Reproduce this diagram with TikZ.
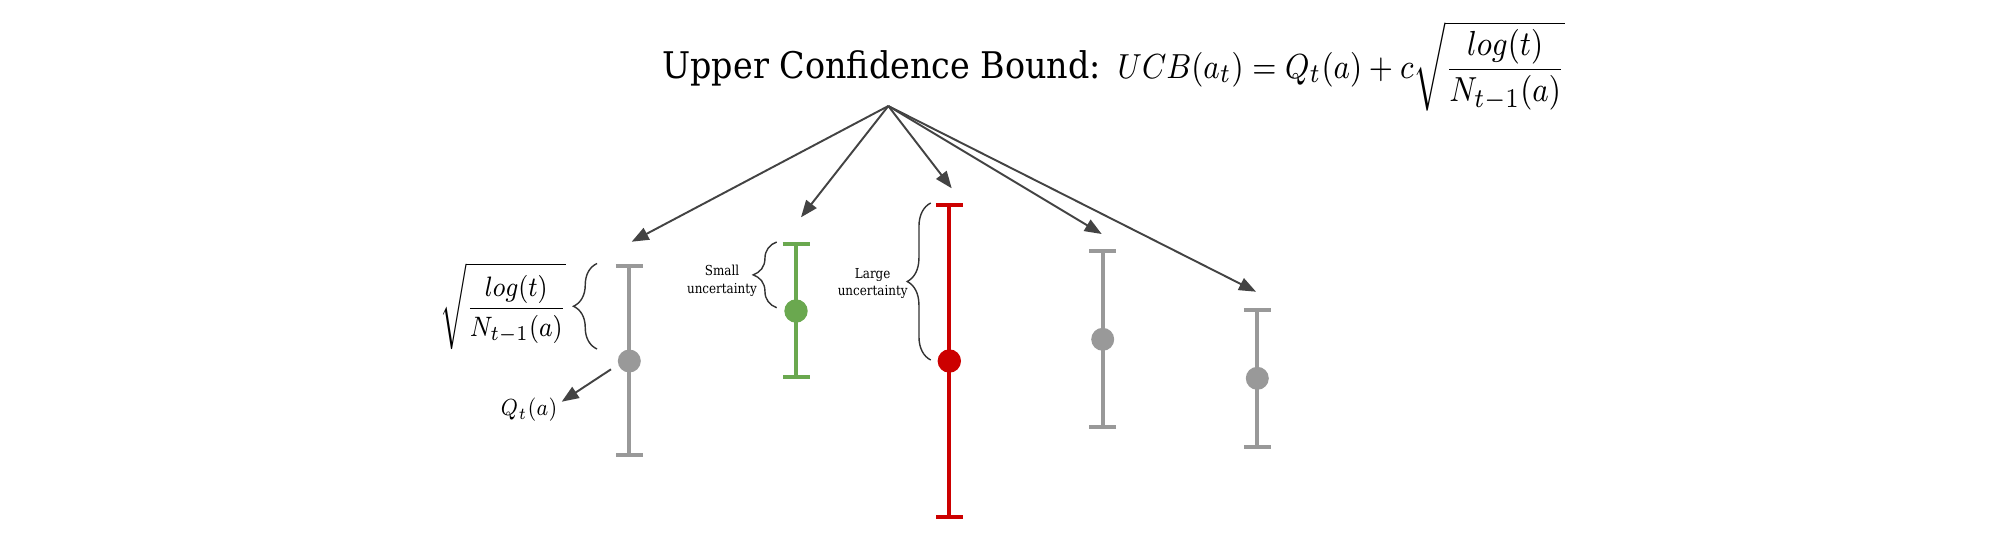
\documentclass[tikz,border=0pt]{standalone}
\usepackage{amsmath, amssymb}
\usepackage{graphicx}
\usepackage[no-math]{fontspec}
\newfontfamily\lblfont{DejaVu Serif}
\usepackage{tikz}
\usetikzlibrary{calc, arrows.meta, decorations.pathreplacing, positioning}
\definecolor{barGray}{HTML}{999999}
\definecolor{barGreen}{HTML}{6AA84F}
\definecolor{barRed}{HTML}{CC0000}
\definecolor{arrowGray}{HTML}{434343}
\definecolor{braceGray}{HTML}{333333}

\begin{document}
\begin{tikzpicture}[
    bar/.style={draw=#1, line width=1.1pt, {Bar[width=0.27cm]}-{Bar[width=0.27cm]}},
    arr/.style={draw=arrowGray, line width=0.55pt, -{Triangle[length=0.17cm, width=0.13cm]}},
    ubrace/.style={draw=braceGray, line width=0.4pt, decorate, decoration={brace, amplitude=0.235cm}},
    note/.style={font=\lblfont\fontsize{3.4}{4.3}\selectfont, inner sep=0pt}
  ]
                \useasboundingbox (0,0) rectangle (20,-5.45);
                \node[anchor=base west, inner sep=0pt, font=\fontsize{9.5}{11}\selectfont] (title) at (6.617,-0.783)
                    {\scalebox{1}[1.1]{\lblfont Upper Confidence Bound:}\hspace{0.5em}\scalebox{0.955}[1.1]{$\displaystyle UCB(a_t) = Q_t(a) + c\sqrt{\frac{log(t)}{N_{t-1}(a)}}$}};
                \coordinate (apex) at (8.883,-1.06);
                \coordinate (top1) at (6.293,-2.643); \coordinate (mid1) at (6.293,-3.61); \coordinate (bot1) at (6.293,-4.57);
                \coordinate (top2) at (7.96,-2.423);  \coordinate (mid2) at (7.96,-3.11);  \coordinate (bot2) at (7.96,-3.787);
                \coordinate (top3) at (9.493,-2.027); \coordinate (mid3) at (9.493,-3.61); \coordinate (bot3) at (9.493,-5.193);
                \coordinate (top4) at (11.027,-2.493); \coordinate (mid4) at (11.027,-3.393); \coordinate (bot4) at (11.027,-4.29);
                \coordinate (top5) at (12.573,-3.077); \coordinate (mid5) at (12.573,-3.783); \coordinate (bot5) at (12.573,-4.49);
                \draw[bar=barGray] (top1) -- (bot1);
                \fill[barGray] (mid1) circle (0.115);
                \draw[bar=barGreen] (top2) -- (bot2);
                \fill[barGreen] (mid2) circle (0.117);
                \draw[bar=barRed] (top3) -- (bot3);
                \fill[barRed] (mid3) circle (0.117);
                \draw[bar=barGray] (top4) -- (bot4);
                \fill[barGray] (mid4) circle (0.115);
                \draw[bar=barGray] (top5) -- (bot5);
                \fill[barGray] (mid5) circle (0.115);
                \coordinate (aim1) at (6.317,-2.417);
                \coordinate (aim2) at (8.01,-2.173);
                \coordinate (aim3) at (9.517,-1.883);
                \coordinate (aim4) at (11.017,-2.34);
                \coordinate (aim5) at (12.56,-2.917);
                \draw[arr] (apex) -- (aim1);
                \draw[arr] (apex) -- (aim2);
                \draw[arr] (apex) -- (aim3);
                \draw[arr] (apex) -- (aim4);
                \draw[arr] (apex) -- (aim5);
                \draw[ubrace] (5.97,-3.49) -- (5.97,-2.635);
                \draw[ubrace] (7.767,-3.077) -- (7.767,-2.42);
                \draw[ubrace] (9.307,-3.60) -- (9.307,-2.03);
                \node[font=\fontsize{8.1}{10}\selectfont] (sqrtlbl) at (5.033,-3.06) {\scalebox{0.86}[1]{$\displaystyle\sqrt{\frac{log(t)}{N_{t-1}(a)}}$}};
                \node[font=\fontsize{7}{8}\selectfont] (qlbl) at (5.29,-4.10) {\scalebox{0.8}[0.95]{$Q_t(a)$}};
                \coordinate (qtail) at (6.11,-3.693);
                \coordinate (qaim) at (5.617,-4.017);
                \draw[arr] (qtail) -- (qaim);
                \node[note] (smalltxt) at (7.22,-2.81) {\scalebox{1}[1.15]{\begin{tabular}{@{}c@{}}Small\\uncertainty\end{tabular}}};
                \node[note] (largetxt) at (8.727,-2.838) {\scalebox{1}[1.15]{\begin{tabular}{@{}c@{}}Large\\uncertainty\end{tabular}}};
            \end{tikzpicture}
\end{document}
